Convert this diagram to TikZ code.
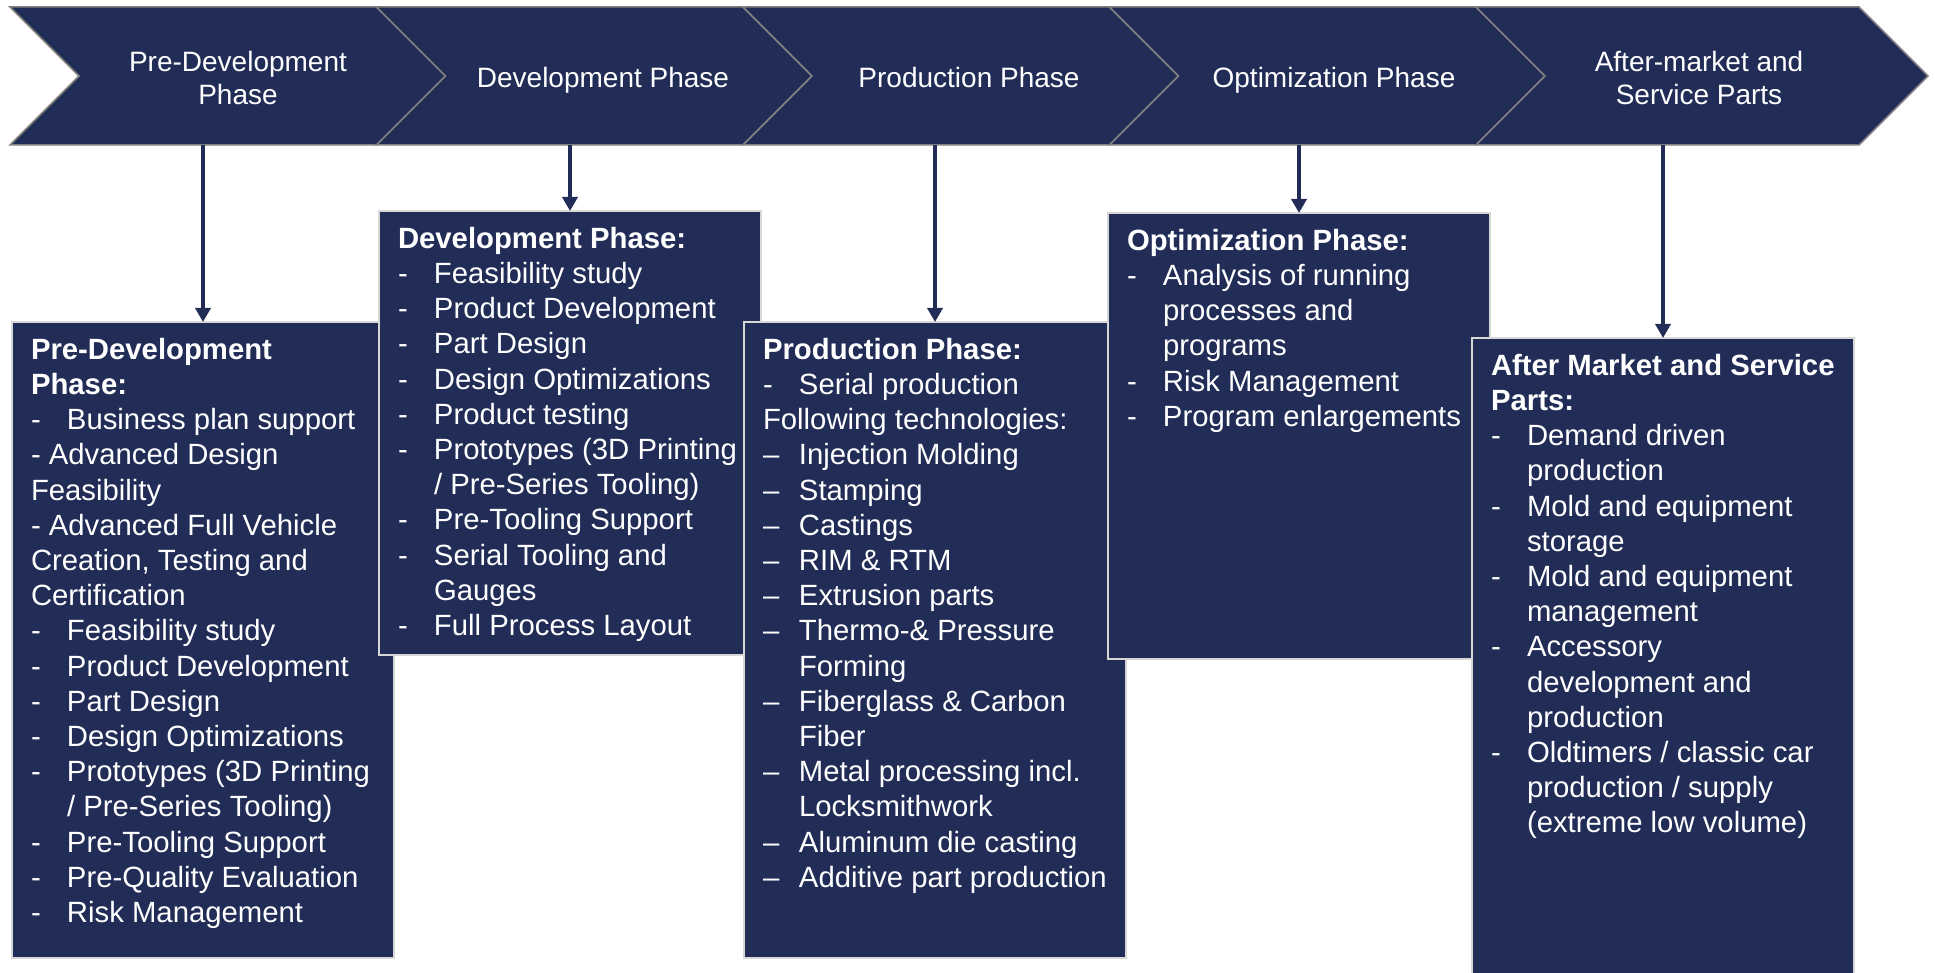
\documentclass[tikz,border=0pt]{standalone}
\usepackage{fontspec}
\setmainfont{Liberation Sans}
\usetikzlibrary{arrows.meta}

\definecolor{navy}{RGB}{34,45,87}
\definecolor{chevedge}{RGB}{128,128,128}
\definecolor{boxedge}{RGB}{215,215,215}

\newcommand{\dashitem}[1]{\makebox[36pt][l]{-}#1}
\newcommand{\techitem}[1]{\makebox[36pt][l]{\textendash}#1}
\newcommand{\contline}[1]{\hspace*{36pt}#1}
\newcommand{\boxbody}[2]{\parbox[t][#1][t]{344pt}{\fontsize{29.3}{35.2}\selectfont #2}}

\begin{document}
\begin{tikzpicture}[x=1pt, y=-1pt,
    phase/.style={text=white, align=center, font=\fontsize{28}{33}\selectfont},
    phasebox/.style={anchor=north west, draw=boxedge, line width=1.5pt, fill=navy,
        text=white, inner xsep=19pt, inner ysep=16pt, outer sep=0pt},
    link/.style={draw=navy, line width=4pt, -{Triangle[length=14pt, width=15pt]}}]

\clip (0,0) rectangle (1935,973);

% chevron band
\foreach \l/\w in {10/366.5, 376.5/366.5, 743/366.5, 1109.5/366.5, 1476/383}
    \draw[fill=navy, draw=chevedge, line width=1.5pt]
        (\l,7) -- ++(\w,0) -- ++(69,69) -- ++(-69,69) -- ++(-\w,0) -- ++(69,-69) -- cycle;

\node[phase] (c1) at (238,81) {Pre-Development\strut\\Phase\strut};
\node[phase] (c2) at (603,81) {Development Phase\strut};
\node[phase] (c3) at (969,81) {Production Phase\strut};
\node[phase] (c4) at (1334,81) {Optimization Phase\strut};
\node[phase] (c5) at (1699,81) {After-market and\strut\\Service Parts\strut};

\coordinate (bandbot) at (0,145);

% detail boxes
\node[phasebox] (b1) at (12,322) {\boxbody{604pt}{%
\textbf{Pre-Development}\\
\textbf{Phase:}\\
\dashitem{Business plan support}\\
- Advanced Design\\
Feasibility\\
- Advanced Full Vehicle\\
Creation, Testing and\\
Certification\\
\dashitem{Feasibility study}\\
\dashitem{Product Development}\\
\dashitem{Part Design}\\
\dashitem{Design Optimizations}\\
\dashitem{Prototypes (3D Printing}\\
\contline{/ Pre-Series Tooling)}\\
\dashitem{Pre-Tooling Support}\\
\dashitem{Pre-Quality Evaluation}\\
\dashitem{Risk Management}}};

\node[phasebox] (b2) at (379,211) {\boxbody{412pt}{%
\textbf{Development Phase:}\\
\dashitem{Feasibility study}\\
\dashitem{Product Development}\\
\dashitem{Part Design}\\
\dashitem{Design Optimizations}\\
\dashitem{Product testing}\\
\dashitem{Prototypes (3D Printing}\\
\contline{/ Pre-Series Tooling)}\\
\dashitem{Pre-Tooling Support}\\
\dashitem{Serial Tooling and}\\
\contline{Gauges}\\
\dashitem{Full Process Layout}}};

\node[phasebox] (b3) at (744,322) {\boxbody{604pt}{%
\textbf{Production Phase:}\\
\dashitem{Serial production}\\
Following technologies:\\
\techitem{Injection Molding}\\
\techitem{Stamping}\\
\techitem{Castings}\\
\techitem{RIM \& RTM}\\
\techitem{Extrusion parts}\\
\techitem{Thermo-\& Pressure}\\
\contline{Forming}\\
\techitem{Fiberglass \& Carbon}\\
\contline{Fiber}\\
\techitem{Metal processing incl.}\\
\contline{Locksmithwork}\\
\techitem{Aluminum die casting}\\
\techitem{Additive part production}}};

\node[phasebox] (b4) at (1108,213) {\boxbody{414pt}{%
\textbf{Optimization Phase:}\\
\dashitem{Analysis of running}\\
\contline{processes and}\\
\contline{programs}\\
\dashitem{Risk Management}\\
\dashitem{Program enlargements}}};

\node[phasebox] (b5) at (1472,338) {\boxbody{640pt}{%
\textbf{After Market and Service}\\
\textbf{Parts:}\\
\dashitem{Demand driven}\\
\contline{production}\\
\dashitem{Mold and equipment}\\
\contline{storage}\\
\dashitem{Mold and equipment}\\
\contline{management}\\
\dashitem{Accessory}\\
\contline{development and}\\
\contline{production}\\
\dashitem{Oldtimers / classic car}\\
\contline{production / supply}\\
\contline{(extreme low volume)}}};

% arrows from the band
\foreach \b in {b1, b2, b3, b4, b5}
    \draw[link] (\b.north |- bandbot) -- (\b.north);

\end{tikzpicture}
\end{document}
